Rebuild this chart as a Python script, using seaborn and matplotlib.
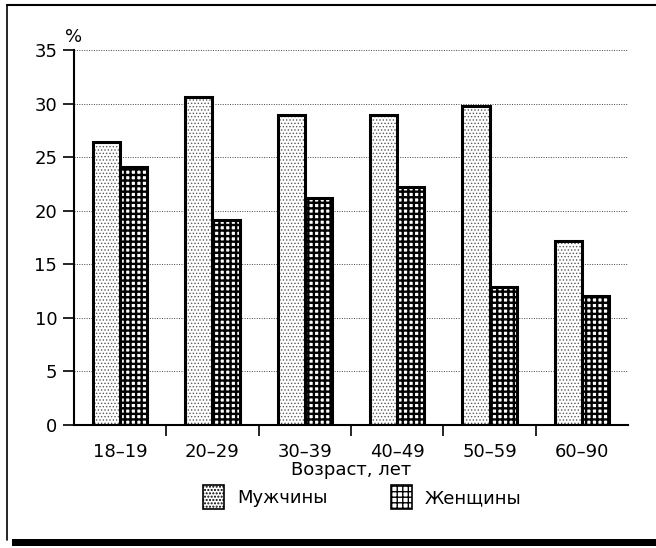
import pandas as pd
import seaborn as sns
import matplotlib.pyplot as plt
from matplotlib.patches import Rectangle, Patch

age_groups = ['18–19', '20–29', '30–39', '40–49', '50–59', '60–90']
men = [26.4, 30.6, 28.9, 28.9, 29.8, 17.2]
women = [24.1, 19.1, 21.2, 22.2, 12.9, 12.0]
series = ['Мужчины', 'Женщины']
yticks = [0, 5, 10, 15, 20, 25, 30, 35]

df = pd.DataFrame({
    'Возраст': age_groups * 2,
    'Пол': [series[0]] * len(age_groups) + [series[1]] * len(age_groups),
    'Процент': men + women,
})

sns.set_theme(style='white')
plt.rcParams['font.family'] = ['DejaVu Sans']
plt.rcParams['text.color'] = 'black'
plt.rcParams['xtick.color'] = 'black'
plt.rcParams['ytick.color'] = 'black'
plt.rcParams['axes.labelcolor'] = 'black'
plt.rcParams['hatch.linewidth'] = 1.0

fig = plt.figure(figsize=(6.56, 5.48), dpi=100)
ax = fig.add_axes([74 / 656, 1 - 425 / 548, 554 / 656, 375 / 548])

hatches = {series[0]: '.....', series[1]: '+++'}
hatch_colors = {series[0]: '#5a5a5a', series[1]: 'black'}
hatch_widths = {series[0]: 0.6, series[1]: 1.7}


def style_patch(p, s):
    p.set_facecolor('white')
    p.set_hatch(hatches[s])
    p.set_edgecolor(hatch_colors[s])
    if hasattr(p, 'set_hatch_linewidth'):
        p.set_hatch_linewidth(hatch_widths[s])


# hatched fill
sns.barplot(data=df, x='Возраст', y='Процент', hue='Пол', order=age_groups,
            hue_order=series, width=0.59, ax=ax, legend=False,
            color='white', linewidth=0)
n = len(age_groups)
for i, p in enumerate(ax.patches):
    style_patch(p, series[i // n])
    p.set_linewidth(0)

# black outlines on top
sns.barplot(data=df, x='Возраст', y='Процент', hue='Пол', order=age_groups,
            hue_order=series, width=0.59, ax=ax, legend=False,
            fill=False, linewidth=2.2, edgecolor='black')

ax.set_ylim(0, 35)
ax.set_xlim(-0.5, n - 0.5)
ax.set_yticks(yticks)
ax.set_yticklabels([str(v) for v in yticks], fontsize=13)
ax.set_xticks(range(n))
ax.set_xticklabels(age_groups, fontsize=13)
ax.tick_params(axis='x', length=0, pad=13)
ax.tick_params(axis='y', length=8, width=1.2, direction='out', left=True, pad=4)
# ticks between groups
ax.set_xticks([i + 0.5 for i in range(n - 1)], minor=True)
ax.tick_params(axis='x', which='minor', length=8, width=1.2, direction='out', bottom=True)

ax.yaxis.grid(True, linestyle=(0, (1, 1.5)), color='#444444', linewidth=0.7)
ax.set_axisbelow(True)
for side in ['top', 'right']:
    ax.spines[side].set_visible(False)
for side in ['left', 'bottom']:
    ax.spines[side].set_color('black')
    ax.spines[side].set_linewidth(1.5)

ax.set_xlabel('Возраст, лет', fontsize=13, labelpad=0)
ax.set_ylabel('')
ax.text(0.0, 1.012, '%', transform=ax.transAxes, fontsize=13,
        ha='center', va='bottom')

handles = []
for s in series:
    h = Patch(facecolor='white', edgecolor='black', hatch=hatches[s], linewidth=1.2)
    if hasattr(h, 'set_hatch_linewidth'):
        h.set_hatch_linewidth(hatch_widths[s] * 0.7)
    handles.append(h)
fig.legend(handles, series, loc='center', bbox_to_anchor=(0.552, 1 - 497 / 548),
           ncol=2, frameon=False, fontsize=13, handlelength=1.2, handleheight=1.7,
           columnspacing=3.5, handletextpad=0.7)

# frame around the figure (open on the right)
fig.add_artist(plt.Line2D([7 / 656, 7 / 656], [1 - 540 / 548, 1 - 5 / 548],
                          transform=fig.transFigure, color='black', linewidth=1.2))
fig.add_artist(plt.Line2D([7 / 656, 1], [1 - 5 / 548, 1 - 5 / 548],
                          transform=fig.transFigure, color='black', linewidth=1.5))
fig.patches.append(Rectangle((12 / 656, 1 - 546 / 548), 650 / 656, 7 / 548,
                             transform=fig.transFigure, facecolor='black',
                             edgecolor='none'))

fig.savefig('out.png', dpi=100)
